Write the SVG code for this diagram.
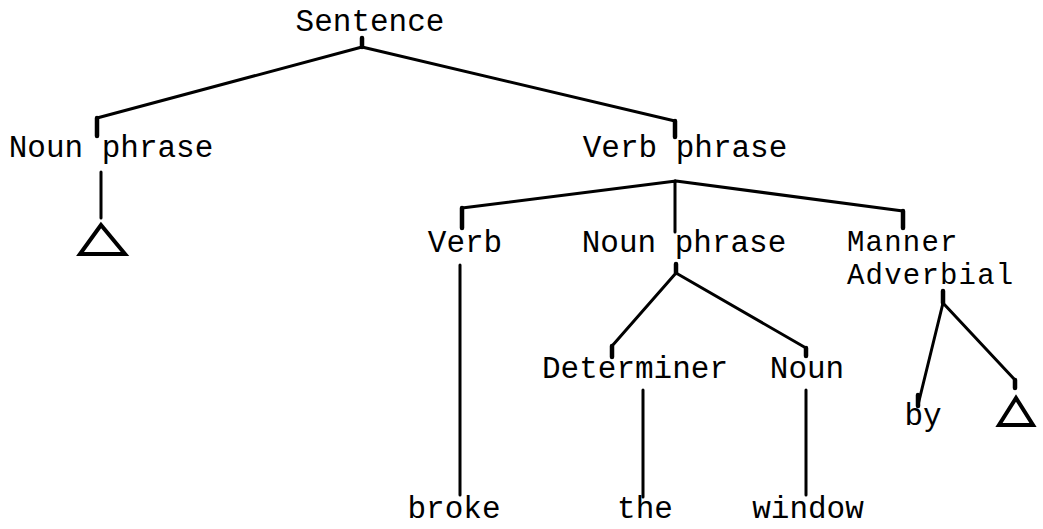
<svg xmlns="http://www.w3.org/2000/svg" width="1043" height="529" viewBox="0 0 1043 529">
<style>
text{font-family:"Liberation Mono","DejaVu Sans Mono",monospace;font-size:31px;fill:#000}
.m{text-anchor:middle}
.s{text-anchor:start}
.sm{font-size:29px;letter-spacing:1.2px}
.ln{stroke:#000;stroke-width:3;fill:none;stroke-linecap:round;stroke-linejoin:round}
.tk{stroke:#000;stroke-width:4.5;fill:none;stroke-linecap:round}
.tri{stroke:#000;stroke-width:4;fill:none;stroke-linejoin:miter}
</style>
<rect width="1043" height="529" fill="#fff"/>
<g id="connectors">
<path class="tk" d="M362 38V47"/>
<path class="ln" d="M362 47L97 118M362 47L675 121"/>
<path class="tk" d="M97 118V136M675 121V137"/>
<path class="ln" d="M101 172V218"/>
<path class="ln" d="M462 208L676 181L903 211M675 181V232"/>
<path class="tk" d="M462 208V228M903 211V228"/>
<path class="ln" d="M460 265V495"/>
<path class="tk" d="M676 264V273"/>
<path class="ln" d="M612 346L676 273L806 348"/>
<path class="tk" d="M612 346V357M806 348V356"/>
<path class="ln" d="M643 390V497M806 390V495"/>
<path class="tk" d="M943 291V303"/>
<path class="ln" d="M918 405L943 303L1015 380"/>
<path class="tk" d="M1015 380V388M918 395V406"/>
</g>
<g id="n-sentence"><text class="m" x="370" y="31">Sentence</text></g>
<g id="n-np1"><text class="m" x="111" y="157">Noun phrase</text></g>
<g id="n-np1-tri"><path class="tri" d="M101 225L80 254H125Z"/></g>
<g id="n-vp"><text class="m" x="685" y="157">Verb phrase</text></g>
<g id="n-verb"><text class="m" x="465" y="252">Verb</text></g>
<g id="n-np2"><text class="m" x="684" y="252">Noun phrase</text></g>
<g id="n-adv"><text class="s sm" x="847" y="251">Manner</text><text class="s sm" x="847" y="284">Adverbial</text></g>
<g id="n-det"><text class="m" x="635" y="378">Determiner</text></g>
<g id="n-noun"><text class="m" x="807" y="378">Noun</text></g>
<g id="n-by"><text class="m" x="923" y="425">by</text></g>
<g id="n-adv-tri"><path class="tri" d="M1016 398L999 425H1033Z"/></g>
<g id="n-broke"><text class="m" x="454" y="518">broke</text></g>
<g id="n-the"><text class="m" x="645" y="518">the</text></g>
<g id="n-window"><text class="m" x="808" y="518">window</text></g>
</svg>
